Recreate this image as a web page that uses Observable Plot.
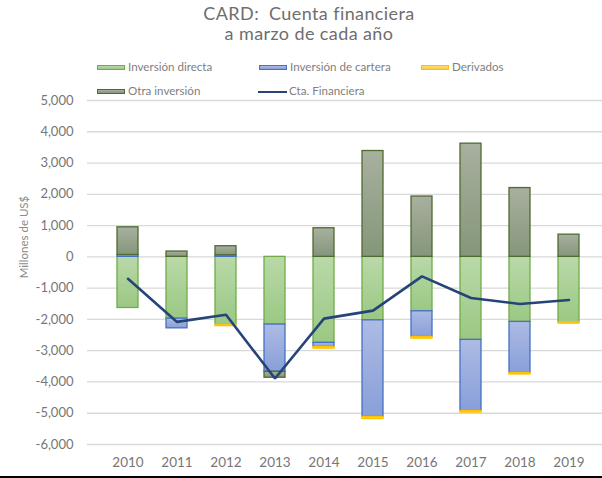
<!DOCTYPE html>
<html>
<head>
<meta charset="utf-8">
<script src="https://cdn.jsdelivr.net/npm/d3@7"></script>
<script src="https://cdn.jsdelivr.net/npm/@observablehq/plot@0.6"></script>
<style>
  html, body { margin: 0; padding: 0; background: #fff; }
  #wrap { position: relative; width: 602px; height: 478px; overflow: hidden; font-family: "Lato", "Open Sans", sans-serif; }
  .title { position: absolute; left: 8px; width: 602px; text-align: center; font-size: 18px; color: #6e6e6e; letter-spacing: 0.4px; }
  .leg { position: absolute; font-size: 11.6px; color: #808080; white-space: nowrap; line-height: 14px; }
  .sw { position: absolute; width: 26px; height: 3px; border: 1px solid; }
  .ln { position: absolute; width: 29px; height: 0; border-top: 2.2px solid #264478; }
  #chart { position: absolute; left: 0; top: 90px; width: 609px; }
  #ylab { position: absolute; left: 23px; top: 237px; transform: translate(-50%, -50%) rotate(-90deg); font-size: 11.5px; color: #8a8a8a; white-space: nowrap; }
  #bottom { position: absolute; left: 0; top: 476px; width: 602px; height: 2px; background: #000; }
</style>
</head>
<body>
<div id="wrap">
  <div class="title" style="top:2px">CARD:&nbsp; Cuenta financiera</div>
  <div class="title" style="top:22px">a marzo de cada año</div>
  <div id="legend"></div>
  <div id="ylab">Millones de US$</div>
  <div id="chart"></div>
  <div id="bottom"></div>
</div>
<script>
const years = [2010, 2011, 2012, 2013, 2014, 2015, 2016, 2017, 2018, 2019];
const seriesNames = ["Inversión directa", "Inversión de cartera", "Derivados", "Otra inversión"];
const directa   = [-1635, -1975, -2165, -2165, -2750, -2030, -1740, -2655, -2080, -2090];
const cartera   = [60, -310, 50, -1510, -130, -3090, -820, -2270, -1635, 0];
const derivados = [0, 0, -50, 0, -55, -65, -55, -55, -45, -45];
const otra      = [885, 170, 290, -190, 915, 3385, 1930, 3620, 2200, 710];
const ctaFinanciera = [-700, -2080, -1850, -3890, -1975, -1720, -625, -1315, -1505, -1380];
const lineName = "Cta. Financiera";
const yTicks = [-6000, -5000, -4000, -3000, -2000, -1000, 0, 1000, 2000, 3000, 4000, 5000];

const seriesValues = [directa, cartera, derivados, otra];
const gradStops = {
  "Inversión directa": ["#b9d9a9", "#9bc883"],
  "Inversión de cartera": ["#adbbe4", "#889fd8"],
  "Derivados": ["#ffd870", "#ffcc40"],
  "Otra inversión": ["#a8b09f", "#85967a"]
};
const gradIds = {
  "Inversión directa": "gDir",
  "Inversión de cartera": "gCar",
  "Derivados": "gDer",
  "Otra inversión": "gOtr"
};
const strokes = {
  "Inversión directa": "#70ad47",
  "Inversión de cartera": "#4472c4",
  "Derivados": "#ffc000",
  "Otra inversión": "#4f6b30"
};

const rows = [];
years.forEach((yr, i) => {
  seriesNames.forEach((s, k) => rows.push({year: yr, serie: s, value: seriesValues[k][i]}));
});
const lineRows = years.map((yr, i) => ({year: yr, value: ctaFinanciera[i]}));

const fmt = d => d.toLocaleString("en-US");

const plot = Plot.plot({
  width: 609,
  height: 388,
  marginLeft: 87,
  marginRight: 0,
  marginTop: 10,
  marginBottom: 34,
  style: {fontFamily: "Lato, 'Open Sans', sans-serif", color: "#767676", background: "transparent", overflow: "visible"},
  x: {type: "band", domain: years, padding: 0.57, label: null},
  y: {domain: [-6000, 5000], label: null},
  color: {type: "identity"},
  marks: [
    Plot.gridY(yTicks, {stroke: "#d9d9d9", strokeOpacity: 1, strokeWidth: 1.3}),
    Plot.axisY(yTicks, {tickFormat: fmt, tickSize: 0, tickPadding: 14, fontSize: 13, label: null}),
    Plot.axisX({tickFormat: d => String(d), tickSize: 0, tickPadding: 13, fontSize: 13.5, label: null}),
    Plot.barY(rows, Plot.stackY({
      x: "year", y: "value", z: "serie",
      fill: d => `url(#${gradIds[d.serie]})`, stroke: d => strokes[d.serie], strokeWidth: 1.3
    })),
    Plot.lineY(lineRows, {x: "year", y: "value", stroke: "#264478", strokeWidth: 2.6, strokeLinejoin: "miter"})
  ]
});
plot.style.maxWidth = "none";
plot.style.width = "609px";

const defs = d3.select(plot).insert("defs", ":first-child");
seriesNames.forEach(s => {
  const g = defs.append("linearGradient").attr("id", gradIds[s]).attr("x1", 0).attr("y1", 0).attr("x2", 0).attr("y2", 1);
  g.append("stop").attr("offset", "0%").attr("stop-color", gradStops[s][0]);
  g.append("stop").attr("offset", "100%").attr("stop-color", gradStops[s][1]);
});

document.getElementById("chart").appendChild(plot);

// Legend
const legend = document.getElementById("legend");
const legItems = [
  {name: seriesNames[0], x: 97, y: 68, type: "sw"},
  {name: seriesNames[1], x: 259, y: 68, type: "sw"},
  {name: seriesNames[2], x: 421, y: 68, type: "sw"},
  {name: seriesNames[3], x: 97, y: 92, type: "sw"},
  {name: lineName, x: 258, y: 92, type: "ln"}
];
legItems.forEach(it => {
  if (it.type === "sw") {
    const s = document.createElement("div");
    s.className = "sw";
    s.style.left = it.x + "px";
    s.style.top = (it.y - 3) + "px";
    s.style.background = `linear-gradient(${gradStops[it.name][0]}, ${gradStops[it.name][1]})`;
    s.style.borderColor = strokes[it.name];
    legend.appendChild(s);
  } else {
    const l = document.createElement("div");
    l.className = "ln";
    l.style.left = it.x + "px";
    l.style.top = (it.y - 1) + "px";
    legend.appendChild(l);
  }
  const t = document.createElement("div");
  t.className = "leg";
  t.textContent = it.name;
  t.style.left = (it.x + 31) + "px";
  t.style.top = (it.y - 8) + "px";
  legend.appendChild(t);
});
</script>
</body>
</html>
